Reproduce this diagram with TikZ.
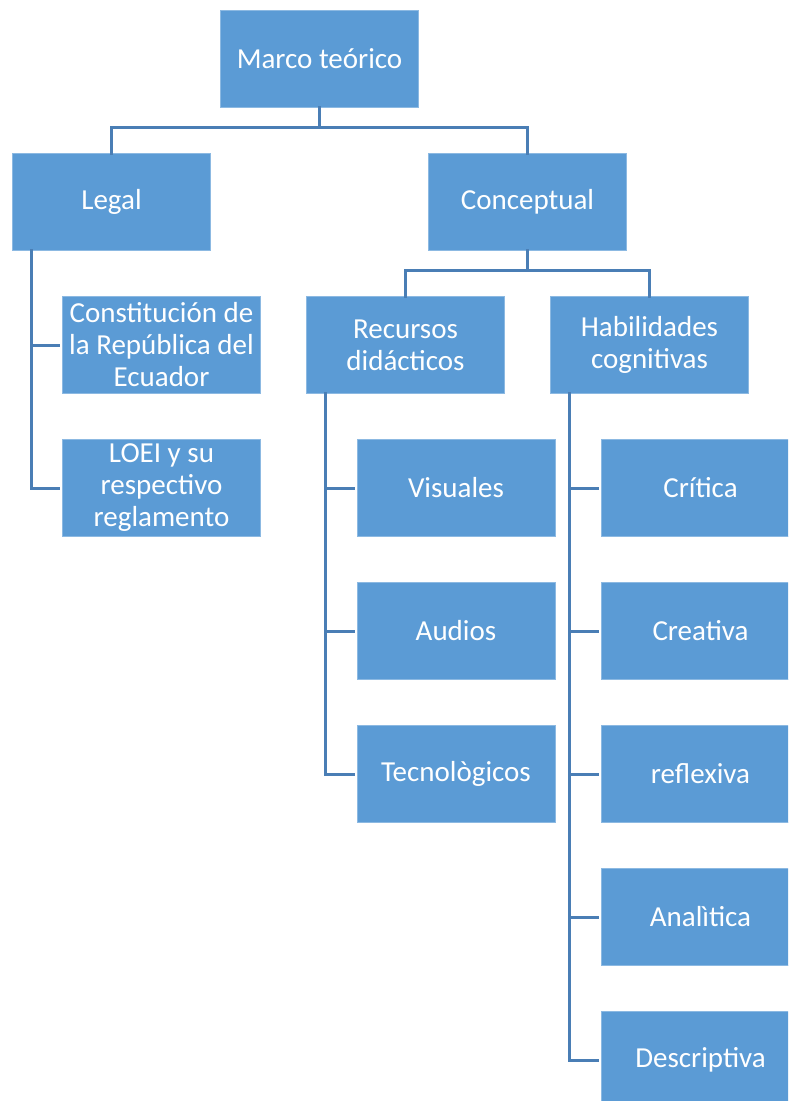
\documentclass[tikz,border=0pt]{standalone}
\usepackage{fontspec}
\setmainfont{Carlito}
\definecolor{boxblue}{HTML}{5B9BD5}
\definecolor{lineblue}{HTML}{4A7EB5}
\tikzset{
  box/.style={draw=boxblue!70!white, line width=1pt, fill=boxblue, minimum width=198pt, minimum height=97pt,
    inner sep=2pt, text=white, align=center, font=\fontsize{29}{32}\selectfont},
  conn/.style={draw=lineblue, line width=3pt},
}
\begin{document}
\begin{tikzpicture}[x=1pt,y=-1pt]
\useasboundingbox (0,0) rectangle (788,1101);
\begin{scope}
\clip (0,0) rectangle (788,1101);
\node[box] (marco) at (319.5,59) {Marco teórico};
\node[box] (legal) at (111.5,202) {Legal};
\node[box] (concep) at (527.5,202) {Conceptual};
\node[box] (const) at (161.5,345) {Constitución de\\la República del\\Ecuador};
\node[box] (loei) at (161.5,488) {LOEI y su\\respectivo\\reglamento};
\node[box] (recur) at (405.5,345) {Recursos\\didácticos};
\node[box] (habil) at (649.5,345) {Habilidades\\cognitivas};
\node[box] (visu) at (456,488) {Visuales};
\node[box] (audi) at (456,631) {Audios};
\node[box] (tecn) at (456,774) {Tecnològicos};
\node[box] (crit) at (700.5,488) {Crítica};
\node[box] (crea) at (700.5,631) {Creativa};
\node[box] (refl) at (700.5,774) {reflexiva};
\node[box] (anal) at (700.5,917) {Analìtica};
\node[box] (desc) at (700.5,1060) {Descriptiva};
% connectors
\draw[conn] ([yshift=2pt]marco.south) -- ++(0,21) -| ([yshift=-2pt]legal.north);
\draw[conn] ([yshift=2pt]marco.south) -- ++(0,21) -| ([yshift=-2pt]concep.north);
\draw[conn] ([yshift=2pt]concep.south) -- ++(0,21) -| ([yshift=-2pt]recur.north);
\draw[conn] ([yshift=2pt]concep.south) -- ++(0,21) -| ([yshift=-2pt]habil.north);
\coordinate (lv) at ([xshift=19pt,yshift=2pt]legal.south west);
\draw[conn] (lv) |- ([xshift=-2pt]const.west);
\draw[conn] (lv) |- ([xshift=-2pt]loei.west);
\coordinate (rv) at ([xshift=19pt,yshift=2pt]recur.south west);
\foreach \n in {visu,audi,tecn} \draw[conn] (rv) |- ([xshift=-2pt]\n.west);
\coordinate (hv) at ([xshift=19pt,yshift=2pt]habil.south west);
\foreach \n in {crit,crea,refl,anal,desc} \draw[conn] (hv) |- ([xshift=-2pt]\n.west);
\end{scope}
\end{tikzpicture}
\end{document}
